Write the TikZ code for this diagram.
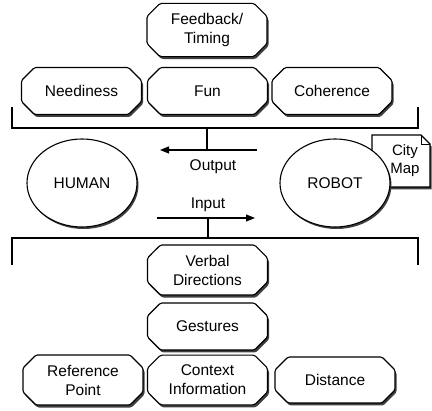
\documentclass[tikz,border=0pt]{standalone}
\usepackage{fontspec}
\setmainfont{Liberation Sans}
\usetikzlibrary{shapes.geometric, shapes.misc, arrows.meta, shadows}

\begin{document}
\begin{tikzpicture}[x=1pt, y=-1pt,
    box/.style={chamfered rectangle, chamfered rectangle xsep=6.5pt, chamfered rectangle ysep=6.5pt,
        rounded corners=1.5pt, draw, line width=1.1pt, fill=white, minimum width=120pt, minimum height=47pt,
        align=center, font=\fontsize{15.5}{19}\selectfont,
        drop shadow={shadow xshift=1.5pt, shadow yshift=-2.5pt, fill=black!75, opacity=1}},
    agent/.style={ellipse, draw, line width=1.1pt, fill=white, minimum width=110pt, minimum height=88pt,
        font=\fontsize{15.5}{19}\selectfont,
        drop shadow={shadow xshift=1.5pt, shadow yshift=-2pt, fill=black!75, opacity=1}},
    flow/.style={line width=1.1pt},
    label/.style={font=\fontsize{15.5}{19}\selectfont}]
    \useasboundingbox (0,0) rectangle (432,411);

    % Upper boxes
    \node[box] (feedback) at (207,30) {Feedback/\\Timing};
    \node[box] (needy) at (81.5,91) {Neediness};
    \node[box] (fun) at (207.5,91) {Fun};
    \node[box] (coher) at (332,91) {Coherence};

    % Upper bracket
    \coordinate (ul) at (12,107);
    \coordinate (ur) at (418,107);
    \coordinate (ulc) at (12,128);
    \coordinate (urc) at (418,128);
    \coordinate (upjoin) at (207,128);
    \draw[flow] (ul) -- (ulc) -- (urc) -- (ur);

    % Output arrow
    \coordinate (outS) at (257,150);
    \coordinate (outE) at (160,150);
    \draw[flow] (upjoin) -- (upjoin |- outS);
    \draw[flow, -{Triangle[length=9pt, width=7pt]}] (outS) -- (outE);
    \node[label] (outlbl) at (213,167) {Output};

    % City map document
    \node[label, align=center, font=\fontsize{15}{18}\selectfont] (map) at (405,161) {City\\Map};
    \draw[line width=1.1pt, fill=white, drop shadow={shadow xshift=1.5pt, shadow yshift=-2.5pt, fill=black!75, opacity=1}]
        (372,135) -- (421,135) -- (430,144) -- (430,187) -- (372,187) -- cycle;
    \draw[line width=0.8pt] (421,135) -- (421,144) -- (430,144);
    \node[label, align=center, font=\fontsize{15}{18}\selectfont] at (map) {City\\Map};

    % Agents
    \node[agent] (human) at (82,183) {HUMAN};
    \node[agent] (robot) at (335,183) {ROBOT};

    % Input arrow
    \node[label] (inlbl) at (208,205) {Input};
    \coordinate (inS) at (157,218);
    \coordinate (inE) at (255,218);
    \draw[flow, -{Triangle[length=9pt, width=7pt]}] (inS) -- (inE);

    % Lower bracket
    \coordinate (lojoin) at (208,238);
    \coordinate (ll) at (12,265);
    \coordinate (lr) at (418,265);
    \coordinate (llc) at (12,238);
    \coordinate (lrc) at (418,238);
    \draw[flow] (lojoin |- inS) -- (lojoin);
    \draw[flow] (ll) -- (llc) -- (lrc) -- (lr);

    % Lower boxes
    \node[box, minimum height=46pt] (verbal) at (207.5,270) {Verbal\\Directions};
    \node[box] (gest) at (207.5,326.5) {Gestures};
    \node[box, minimum height=46pt] (refpt) at (83,380) {Reference\\Point};
    \node[box, minimum height=46pt] (context) at (207.5,380) {Context\\Information};
    \node[box, minimum height=46pt] (dist) at (335,380) {Distance};
\end{tikzpicture}
\end{document}
